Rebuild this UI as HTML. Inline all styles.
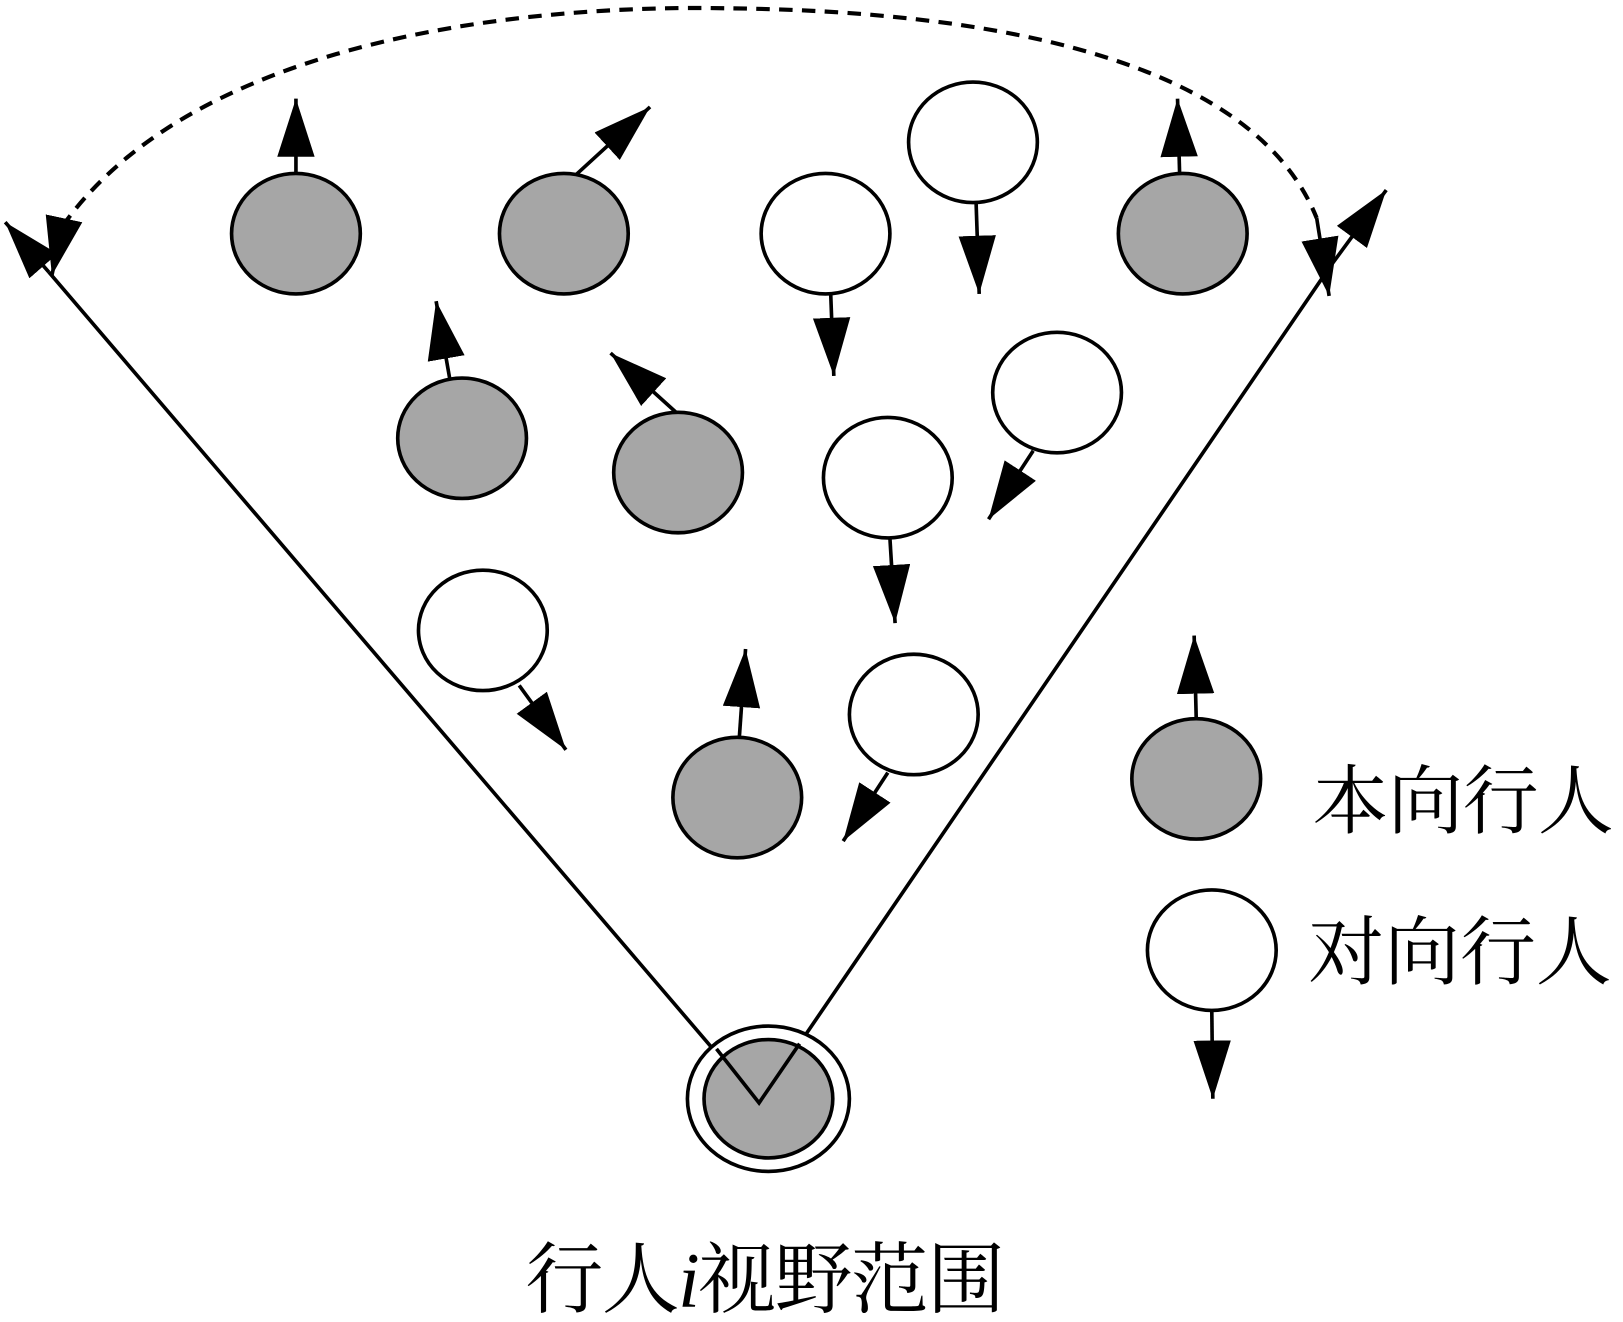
<!DOCTYPE html>
<html><head><meta charset="utf-8"><style>
html,body{margin:0;padding:0;background:#fff;}
svg{display:block;}
</style></head><body>
<svg width="1623" height="1322" viewBox="0 0 1563 1273" preserveAspectRatio="none" xmlns="http://www.w3.org/2000/svg">
<defs>
<marker id="a" markerUnits="userSpaceOnUse" markerWidth="60" markerHeight="40" refX="56" refY="18" orient="auto">
<path d="M0,0 L56,18 L0,36 Z" fill="#000"/>
</marker>
</defs>
<g fill="none" stroke="#000" stroke-width="3.5">
<polyline points="47,262 731,1062 1280,258"/>
<line x1="47" y1="262" x2="5" y2="214" marker-end="url(#a)"/>
<line x1="1280" y1="258" x2="1335" y2="183" marker-end="url(#a)"/>
<path d="M60,218 C200,20 560,5 700,8 C900,10 1200,40 1268,210" stroke-dasharray="13,9" stroke-width="4"/>
<line x1="60" y1="218" x2="50" y2="265" marker-end="url(#a)"/>
<line x1="1268" y1="210" x2="1280" y2="285" marker-end="url(#a)"/>
</g>
<g stroke="#000" stroke-width="3.5">
<g fill="#a6a6a6">
<ellipse cx="285" cy="225" rx="62" ry="58"/>
<ellipse cx="543" cy="225" rx="62" ry="58"/>
<ellipse cx="1139" cy="225" rx="62" ry="58"/>
<ellipse cx="445" cy="422" rx="62" ry="58"/>
<ellipse cx="653" cy="455" rx="62" ry="58"/>
<ellipse cx="710" cy="768" rx="62" ry="58"/>
<ellipse cx="1152" cy="750" rx="62" ry="58"/>
</g>
<g fill="#fff">
<ellipse cx="795" cy="225" rx="62" ry="58"/>
<ellipse cx="937" cy="137" rx="62" ry="58"/>
<ellipse cx="1018" cy="378" rx="62" ry="58"/>
<ellipse cx="855" cy="460" rx="62" ry="58"/>
<ellipse cx="465" cy="607" rx="62" ry="58"/>
<ellipse cx="880" cy="688" rx="62" ry="58"/>
<ellipse cx="1167" cy="915" rx="62" ry="58"/>
</g>
<g fill="none" marker-end="url(#a)">
<line x1="285" y1="167" x2="285" y2="95"/>
<line x1="555" y1="168" x2="626" y2="103"/>
<line x1="1136" y1="167" x2="1134" y2="95"/>
<line x1="433" y1="364" x2="420" y2="290"/>
<line x1="651" y1="397" x2="588" y2="340"/>
<line x1="712" y1="710" x2="718" y2="625"/>
<line x1="1152" y1="692" x2="1150" y2="612"/>
<line x1="800" y1="283" x2="803" y2="362"/>
<line x1="940" y1="195" x2="943" y2="283"/>
<line x1="995" y1="434" x2="952" y2="500"/>
<line x1="857" y1="518" x2="862" y2="600"/>
<line x1="500" y1="660" x2="545" y2="722"/>
<line x1="855" y1="744" x2="812" y2="810"/>
<line x1="1167" y1="973" x2="1168" y2="1058"/>
</g>
<ellipse cx="740" cy="1058" rx="78" ry="70" fill="#fff"/>
<ellipse cx="740" cy="1058" rx="62" ry="57" fill="#a6a6a6"/>
</g>
<polyline points="690,1010 731,1062 770,1005" fill="none" stroke="#000" stroke-width="3.5"/>
<g font-family="'Liberation Serif','Noto Serif CJK SC',serif" fill="#000">
<text x="1264" y="797" font-size="73" textLength="290">本向行人</text>
<text x="1260" y="942" font-size="73" textLength="292">对向行人</text>
<text x="506" y="1258" font-size="75" textLength="462">行人<tspan font-style="italic">i</tspan>视野范围</text>
</g>
</svg>
</body></html>
